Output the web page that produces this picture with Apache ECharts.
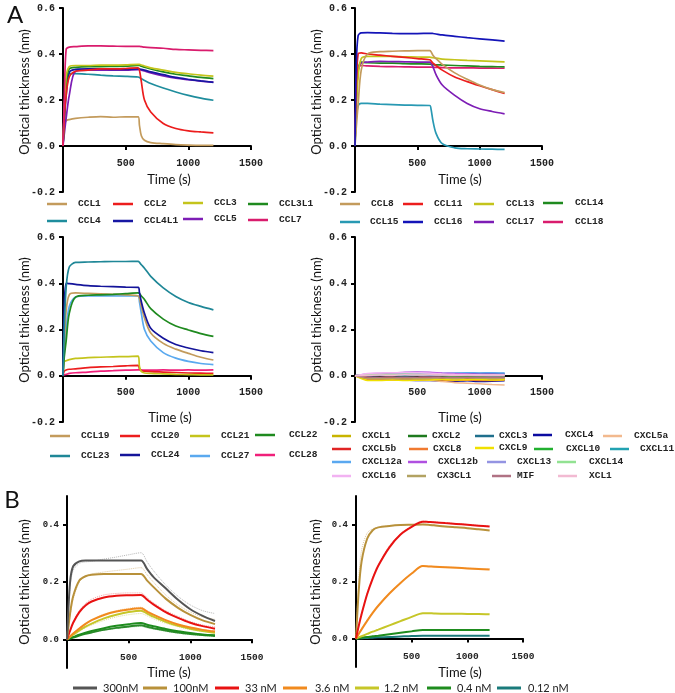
<!DOCTYPE html>
<html><head><meta charset="utf-8">
<script src="https://cdn.jsdelivr.net/npm/echarts@6/dist/echarts.min.js"></script>
<style>html,body{margin:0;padding:0;background:#fff}#c{width:675px;height:693px}</style>
</head><body><div id="c"></div>
<script>
// ---------- time grids (s) ----------
const T1 = [0,10,25,50,100,200,300,400,500,600,610,625,650,700,800,900,1000,1100,1200];
const T4 = [0,100,200,300,400,500,600,700,800,900,1000,1100,1200];
const TB = [0,25,50,100,150,200,300,400,500,600,650,700,800,900,1000,1100,1200];

// ---------- Panel A1 ----------
const CCL1   = [0,0.09,0.11,0.115,0.12,0.125,0.128,0.125,0.127,0.127,0.09,0.045,0.025,0.015,0.01,0.006,0.004,0.003,0.003];
const CCL2   = [0,0.12,0.22,0.30,0.325,0.33,0.335,0.335,0.337,0.34,0.33,0.28,0.20,0.148,0.098,0.076,0.066,0.061,0.057];
const CCL3   = [0,0.15,0.30,0.345,0.35,0.35,0.352,0.352,0.353,0.355,0.355,0.352,0.348,0.34,0.33,0.32,0.314,0.308,0.304];
const CCL3L1 = [0,0.12,0.27,0.335,0.342,0.345,0.345,0.346,0.347,0.35,0.35,0.347,0.343,0.335,0.322,0.312,0.305,0.298,0.293];
const CCL4   = [0,0.15,0.28,0.315,0.315,0.312,0.308,0.305,0.303,0.30,0.298,0.292,0.285,0.272,0.252,0.235,0.22,0.208,0.199];
const CCL4L1 = [0,0.1,0.22,0.32,0.333,0.335,0.335,0.333,0.333,0.335,0.335,0.333,0.33,0.322,0.31,0.298,0.29,0.283,0.277];
const CCL5   = [0,0.05,0.12,0.22,0.325,0.33,0.33,0.33,0.33,0.332,0.332,0.33,0.326,0.318,0.305,0.295,0.288,0.282,0.278];
const CCL7   = [0,0.2,0.42,0.43,0.432,0.435,0.435,0.434,0.433,0.433,0.433,0.432,0.43,0.428,0.425,0.42,0.418,0.416,0.415];

// ---------- Panel A2 ----------
const CCL8  = [0,0.08,0.18,0.33,0.40,0.41,0.412,0.414,0.415,0.415,0.41,0.395,0.38,0.355,0.318,0.29,0.265,0.245,0.232];
const CCL11 = [0,0.25,0.40,0.405,0.40,0.395,0.39,0.385,0.38,0.375,0.37,0.36,0.35,0.33,0.30,0.28,0.262,0.245,0.228];
const CCL13 = [0,0.15,0.30,0.38,0.39,0.39,0.39,0.388,0.387,0.386,0.385,0.384,0.382,0.378,0.375,0.372,0.37,0.368,0.366];
const CCL14 = [0,0.2,0.33,0.365,0.362,0.36,0.36,0.358,0.357,0.356,0.355,0.354,0.353,0.352,0.35,0.348,0.346,0.345,0.344];
const CCL15 = [0,0.12,0.175,0.185,0.185,0.182,0.18,0.178,0.177,0.176,0.16,0.11,0.055,0.01,-0.008,-0.012,-0.013,-0.014,-0.015];
const CCL16 = [0,0.35,0.48,0.492,0.493,0.492,0.49,0.489,0.489,0.49,0.49,0.489,0.487,0.483,0.477,0.471,0.466,0.461,0.456];
const CCL17 = [0,0.2,0.33,0.36,0.365,0.368,0.367,0.366,0.365,0.365,0.36,0.345,0.31,0.265,0.22,0.185,0.162,0.15,0.14];
const CCL18 = [0,0.22,0.34,0.35,0.348,0.346,0.345,0.344,0.343,0.343,0.343,0.342,0.342,0.341,0.34,0.34,0.339,0.339,0.338];

// ---------- Panel A3 ----------
const CCL19 = [0,0.12,0.28,0.35,0.358,0.356,0.354,0.352,0.35,0.345,0.335,0.30,0.25,0.185,0.14,0.115,0.097,0.08,0.068];
const CCL20 = [0,0.02,0.025,0.028,0.03,0.035,0.038,0.04,0.043,0.045,0.03,0.022,0.02,0.018,0.016,0.014,0.012,0.011,0.01];
const CCL21 = [0,0.06,0.065,0.07,0.075,0.078,0.08,0.082,0.083,0.085,0.04,0.018,0.012,0.01,0.008,0.006,0.005,0.004,0.004];
const CCL22 = [0,0.08,0.15,0.27,0.34,0.348,0.35,0.352,0.355,0.358,0.355,0.345,0.33,0.29,0.245,0.215,0.198,0.182,0.17];
const CCL23 = [0,0.2,0.38,0.47,0.49,0.492,0.493,0.494,0.494,0.495,0.49,0.48,0.465,0.43,0.38,0.343,0.317,0.30,0.285];
const CCL24 = [0,0.3,0.40,0.398,0.395,0.39,0.387,0.385,0.383,0.382,0.36,0.32,0.27,0.205,0.162,0.135,0.12,0.108,0.10];
const CCL27 = [0,0.1,0.2,0.30,0.34,0.345,0.345,0.345,0.345,0.345,0.32,0.27,0.2,0.15,0.1,0.076,0.062,0.053,0.048];
const CCL28 = [0,0.004,0.006,0.01,0.013,0.016,0.02,0.022,0.024,0.025,0.025,0.025,0.024,0.024,0.025,0.024,0.025,0.024,0.025];

// ---------- Panel A4 ----------
const CXCL1   = [0,-0.01,-0.012,-0.01,-0.012,-0.01,-0.012,-0.015,-0.013,-0.015,-0.014,-0.016,-0.015];
const CXCL2   = [0,0.005,0.006,0.004,0.006,0.005,0.004,0.002,0.0,-0.002,-0.002,-0.003,-0.003];
const CXCL3   = [0,0.004,0.005,0.006,0.005,0.006,0.005,0.008,0.009,0.01,0.01,0.011,0.01];
const CXCL4   = [0,-0.005,-0.01,-0.015,-0.018,-0.02,-0.02,-0.022,-0.024,-0.022,-0.025,-0.024,-0.022];
const CXCL5a  = [0,-0.01,-0.012,-0.015,-0.015,-0.018,-0.02,-0.025,-0.03,-0.032,-0.035,-0.038,-0.04];
const CXCL5b  = [0,-0.008,-0.01,-0.01,-0.009,-0.01,-0.01,-0.012,-0.01,-0.012,-0.01,-0.012,-0.01];
const CXCL8   = [0,-0.015,-0.016,-0.018,-0.017,-0.018,-0.015,-0.018,-0.02,-0.019,-0.02,-0.02,-0.018];
const CXCL9   = [0,-0.02,-0.02,-0.018,-0.02,-0.019,-0.018,-0.016,-0.018,-0.017,-0.016,-0.018,-0.017];
const CXCL10  = [0,0.002,0.003,0.002,0.004,0.003,0.002,0.0,-0.002,-0.001,-0.002,-0.002,-0.003];
const CXCL11  = [0,0.0,0.002,0.001,0.0,0.002,0.001,0.003,0.004,0.003,0.005,0.004,0.005];
const CXCL12a = [0,0.005,0.006,0.008,0.007,0.008,0.006,0.01,0.012,0.013,0.012,0.013,0.012];
const CXCL12b = [0,0.008,0.01,0.012,0.015,0.016,0.015,0.012,0.01,0.008,0.007,0.006,0.005];
const CXCL13  = [0,0.003,0.004,0.005,0.006,0.005,0.004,0.003,0.002,0.002,0.001,0.0,0.0];
const CXCL14  = [0,0.006,0.007,0.006,0.008,0.007,0.006,0.005,0.004,0.003,0.003,0.002,0.002];
const CXCL16  = [0,0.01,0.012,0.013,0.014,0.013,0.012,0.008,0.006,0.005,0.004,0.003,0.003];
const CX3CL1  = [0,-0.012,-0.013,-0.012,-0.014,-0.013,-0.012,-0.01,-0.012,-0.01,-0.011,-0.012,-0.011];
const MIF     = [0,-0.005,-0.006,-0.005,-0.007,-0.006,-0.005,-0.006,-0.007,-0.006,-0.007,-0.006,-0.007];
const XCL1    = [0,0.002,0.003,0.002,0.004,0.003,0.004,0.003,0.002,0.003,0.002,0.003,0.002];

// ---------- Panel B left: fits and raw ----------
const BL_300  = [0,0.2,0.255,0.272,0.275,0.275,0.275,0.275,0.275,0.275,0.245,0.218,0.178,0.138,0.105,0.082,0.064];
const BL_100  = [0,0.09,0.15,0.205,0.22,0.225,0.228,0.228,0.228,0.228,0.205,0.183,0.142,0.11,0.085,0.066,0.053];
const BL_33   = [0,0.03,0.058,0.095,0.118,0.132,0.146,0.152,0.154,0.155,0.138,0.122,0.095,0.075,0.058,0.046,0.037];
const BL_3_6  = [0,0.01,0.02,0.038,0.054,0.067,0.085,0.097,0.104,0.108,0.097,0.086,0.067,0.052,0.041,0.033,0.027];
const BL_1_2  = [0,0.008,0.016,0.031,0.044,0.055,0.073,0.086,0.095,0.1,0.09,0.079,0.061,0.047,0.037,0.029,0.023];
const BL_0_4  = [0,0.004,0.008,0.016,0.023,0.029,0.039,0.047,0.053,0.057,0.051,0.046,0.036,0.028,0.022,0.017,0.014];
const BL_0_4b = [0,0.003,0.006,0.013,0.019,0.024,0.033,0.04,0.045,0.049,0.044,0.039,0.031,0.024,0.019,0.015,0.012];
const BLraw_300 = [0,0.18,0.24,0.265,0.27,0.272,0.28,0.287,0.295,0.302,0.27,0.24,0.19,0.15,0.12,0.1,0.09];
const BLraw_100 = [0,0.08,0.14,0.2,0.22,0.228,0.235,0.24,0.245,0.25,0.225,0.2,0.155,0.12,0.095,0.078,0.07];
const BLraw_33  = [0,0.03,0.06,0.1,0.125,0.14,0.155,0.16,0.162,0.162,0.145,0.128,0.1,0.08,0.062,0.05,0.043];
const BLraw_3_6 = [0,0.01,0.022,0.04,0.055,0.068,0.088,0.1,0.108,0.112,0.1,0.088,0.068,0.053,0.042,0.034,0.03];
const BLraw_1_2 = [0,0.006,0.013,0.027,0.04,0.05,0.066,0.078,0.086,0.09,0.082,0.072,0.056,0.044,0.034,0.027,0.022];
const BLraw_0_4 = [0,0.003,0.006,0.013,0.019,0.024,0.032,0.038,0.042,0.045,0.04,0.036,0.028,0.022,0.017,0.013,0.011];

// ---------- Panel B right: fits and raw ----------
const BR_100  = [0,0.17,0.27,0.35,0.38,0.39,0.395,0.398,0.399,0.4,0.399,0.397,0.393,0.39,0.387,0.383,0.379];
const BR_33   = [0,0.045,0.085,0.155,0.21,0.255,0.32,0.365,0.392,0.41,0.409,0.408,0.405,0.402,0.399,0.396,0.393];
const BR_3_6  = [0,0.016,0.032,0.062,0.09,0.115,0.158,0.195,0.228,0.254,0.253,0.252,0.25,0.248,0.246,0.244,0.242];
const BR_1_2  = [0,0.004,0.008,0.016,0.024,0.031,0.046,0.061,0.076,0.089,0.089,0.088,0.087,0.087,0.086,0.086,0.085];
const BR_0_4  = [0,0.001,0.003,0.005,0.008,0.01,0.015,0.02,0.025,0.03,0.03,0.03,0.03,0.03,0.03,0.03,0.03];
const BR_0_12 = [0,0.0005,0.001,0.002,0.003,0.004,0.005,0.007,0.009,0.01,0.01,0.01,0.01,0.01,0.01,0.01,0.01];
const BRraw_100 = [0,0.21,0.31,0.37,0.385,0.39,0.395,0.397,0.4,0.402,0.4,0.398,0.394,0.39,0.388,0.384,0.38];
const BRraw_33  = [0,0.05,0.09,0.16,0.215,0.26,0.325,0.368,0.395,0.412,0.41,0.409,0.406,0.403,0.4,0.397,0.394];
const BRraw_3_6 = [0,0.018,0.035,0.066,0.093,0.118,0.16,0.197,0.23,0.256,0.255,0.254,0.252,0.25,0.248,0.246,0.244];

// ---------- tick labels ----------
const yTicksA = [-0.2,0.0,0.2,0.4,0.6];
const yTicksB = [0.0,0.2,0.4];
const xTicks = [500,1000,1500];

// ---------- styling / layout ----------
const COL = {
  tan:'#c39b5c', red:'#ec1d1d', ylw:'#c4c41c', grn:'#1f8a1f', teal:'#1f8d9d', blue:'#1717a3', purp:'#7d1db5', mag:'#d91c6d'
};
const grids = [
  {left:63, top:8, width:188, height:184},
  {left:355, top:8, width:187, height:184},
  {left:63, top:237, width:188, height:185},
  {left:355, top:237, width:187, height:185},
  {left:67, top:496, width:185, height:172},
  {left:356, top:496, width:167, height:171}
];

const series = [];
function add(name, g, T, vals, color, opt) {
  opt = opt || {};
  series.push({
    type:'line', name:name, xAxisIndex:g, yAxisIndex:g,
    data: T.map((t,i)=>[t, vals[i]]),
    showSymbol:false, symbol:'none', smooth: opt.smooth===undefined?0.3:opt.smooth,
    lineStyle:{color:color, width: opt.width||1.7, type: opt.type||'solid', opacity: opt.opacity||1},
    itemStyle:{color:color}, z: opt.z||2, silent:true, animation:false
  });
}
// A1
add('CCL1',0,T1,CCL1,COL.tan); add('CCL4',0,T1,CCL4,COL.teal);
add('CCL5',0,T1,CCL5,COL.purp); add('CCL4L1',0,T1,CCL4L1,COL.blue);
add('CCL3L1',0,T1,CCL3L1,COL.grn); add('CCL3',0,T1,CCL3,COL.ylw);
add('CCL2',0,T1,CCL2,COL.red); add('CCL7',0,T1,CCL7,COL.mag);
// A2
add('CCL15',1,T1,CCL15,'#2899b3'); add('CCL18',1,T1,CCL18,COL.mag);
add('CCL14',1,T1,CCL14,COL.grn); add('CCL17',1,T1,CCL17,COL.purp);
add('CCL13',1,T1,CCL13,COL.ylw); add('CCL11',1,T1,CCL11,COL.red);
add('CCL8',1,T1,CCL8,COL.tan); add('CCL16',1,T1,CCL16,'#1414b8');
// A3
add('CCL28',2,T1,CCL28,'#f0207a'); add('CCL20',2,T1,CCL20,COL.red);
add('CCL21',2,T1,CCL21,COL.ylw); add('CCL27',2,T1,CCL27,'#5aa9ef');
add('CCL19',2,T1,CCL19,COL.tan); add('CCL22',2,T1,CCL22,COL.grn);
add('CCL24',2,T1,CCL24,'#14149a'); add('CCL23',2,T1,CCL23,'#1f8797');
// A4
const A4 = [
  ['CXCL1',CXCL1,'#c8b400'],['CXCL2',CXCL2,'#1e7a1e'],['CXCL3',CXCL3,'#1f6f8c'],['CXCL4',CXCL4,'#0b0ba0'],['CXCL5a',CXCL5a,'#f2b98e'],
  ['CXCL5b',CXCL5b,'#e02424'],['CXCL8',CXCL8,'#f07a30'],['CXCL9',CXCL9,'#f0e000'],['CXCL10',CXCL10,'#22b030'],['CXCL11',CXCL11,'#22a2b2'],
  ['CXCL12a',CXCL12a,'#5aa8f0'],['CXCL12b',CXCL12b,'#b050e0'],['CXCL13',CXCL13,'#9494e2'],['CXCL14',CXCL14,'#92e292'],
  ['CXCL16',CXCL16,'#f2b2f2'],['CX3CL1',CX3CL1,'#b2a262'],['MIF',MIF,'#b07284'],['XCL1',XCL1,'#f2bad2']
];
A4.forEach(a=>add(a[0],3,T4,a[1],a[2],{smooth:0.2,width:1.5}));
// B colours
const BC = {'300nM':'#555555','100nM':'#b8913a','33 nM':'#e81212','3.6 nM':'#f18a1e','1.2 nM':'#c6c628','0.4 nM':'#1e8c1e','0.12 nM':'#1a7b7b'};
// B left raw (dotted)
add('r300L',4,TB,BLraw_300,'#b8b8b8',{type:'dotted',width:1});
add('r100L',4,TB,BLraw_100,'#e0c9a0',{type:'dotted',width:1});
add('r33L',4,TB,BLraw_33,'#f6a0a0',{type:'dotted',width:1});
add('r36L',4,TB,BLraw_3_6,'#f7c79a',{type:'dotted',width:1});
add('r12L',4,TB,BLraw_1_2,'#dede9a',{type:'dotted',width:1});
add('r04L',4,TB,BLraw_0_4,'#9fd09f',{type:'dotted',width:1});
// B left fits
add('fit0.4b',4,TB,BL_0_4b,'#2a8a2a',{width:2,z:3});
add('0.4 nM',4,TB,BL_0_4,BC['0.4 nM'],{width:2,z:3});
add('1.2 nM',4,TB,BL_1_2,BC['1.2 nM'],{width:2,z:3});
add('3.6 nM',4,TB,BL_3_6,BC['3.6 nM'],{width:2,z:3});
add('33 nM',4,TB,BL_33,BC['33 nM'],{width:2,z:3});
add('100nM',4,TB,BL_100,BC['100nM'],{width:2,z:3});
add('300nM',4,TB,BL_300,BC['300nM'],{width:2,z:3});
// B right raw + fits
add('r100R',5,TB,BRraw_100,'#e0c9a0',{type:'dotted',width:1});
add('r33R',5,TB,BRraw_33,'#f6a0a0',{type:'dotted',width:1});
add('r36R',5,TB,BRraw_3_6,'#f7c79a',{type:'dotted',width:1});
add('0.12 nM',5,TB,BR_0_12,BC['0.12 nM'],{width:2,z:3});
add('0.4 nM',5,TB,BR_0_4,BC['0.4 nM'],{width:2,z:3});
add('1.2 nM',5,TB,BR_1_2,BC['1.2 nM'],{width:2,z:3});
add('3.6 nM',5,TB,BR_3_6,BC['3.6 nM'],{width:2,z:3});
add('100nM',5,TB,BR_100,BC['100nM'],{width:2,z:3});
add('33 nM',5,TB,BR_33,BC['33 nM'],{width:2,z:3});

// ---------- axes ----------
const tickFont = {fontFamily:'Liberation Mono', fontWeight:'bold', fontSize:10, color:'#222'};
const xAxes = [], yAxes = [];
grids.forEach((g,i)=>{
  const isB = i>=4;
  const ymin = isB?-0.1:-0.2, ymax = isB?0.5:0.6;
  const zeroFromBottom = g.height * (0 - ymin) / (ymax - ymin);
  xAxes.push({
    type:'value', gridIndex:i, min:0, max:1500, interval:500, position:'bottom',
    offset: -zeroFromBottom,
    axisLine:{onZero:false, lineStyle:{color:'#000', width:2}},
    axisTick:{show:true, length:4, lineStyle:{color:'#000', width:2}, customValues: xTicks},
    axisLabel:{...tickFont, fontSize: isB?9.5:10, margin: isB?13:12, customValues: xTicks,
      formatter: v => xTicks.indexOf(v)>=0 ? String(v) : ''},
    splitLine:{show:false}
  });
  const yt = isB ? yTicksB : yTicksA;
  yAxes.push({
    type:'value', gridIndex:i, min: ymin, max: ymax, interval: isB?0.1:0.2,
    axisLine:{show:true, onZero:false, lineStyle:{color:'#000', width:2}},
    axisTick:{show:true, length:4, lineStyle:{color:'#000', width:2}, customValues: yt},
    axisLabel:{...tickFont, fontSize: isB?9:10, margin: 8, customValues: yt,
      formatter: v => v.toFixed(1)},
    splitLine:{show:false}
  });
});

// ---------- legends ----------
const legA1 = [['CCL1',47,78,204],['CCL2',113,144,204],['CCL3',183,214,203],['CCL3L1',248,279,204],
  ['CCL4',47,78,221],['CCL4L1',113,144,221],['CCL5',183,214,219],['CCL7',248,279,220]];
const legA2 = [['CCL8',340,371,204],['CCL11',403,434,204],['CCL13',474,506,204],['CCL14',543,575,203],
  ['CCL15',340,370,222],['CCL16',403,434,222],['CCL17',474,506,222],['CCL18',543,575,222]];
const legA3 = [['CCL19',50,81,436],['CCL20',120,151,436],['CCL21',190,221,436],['CCL22',255,289,435],
  ['CCL23',50,81,456],['CCL24',120,151,455],['CCL27',190,221,456],['CCL28',255,289,455]];
const legA4 = [['CXCL1',332,362,436],['CXCL2',408,432,436],['CXCL3',475,497,436],['CXCL4',533,565,435],['CXCL5a',603,634,436],
  ['CXCL5b',332,362,449],['CXCL8',409,432,449],['CXCL9',475,497,448],['CXCL10',534,566,449],['CXCL11',610,640,449],
  ['CXCL12a',332,362,462],['CXCL12b',408,438,462],['CXCL13',487,517,462],['CXCL14',557,589,462],
  ['CXCL16',332,362,476],['CX3CL1',407,437,476],['MIF',492,517,476],['XCL1',558,589,476]];
const legB = [['300nM',73,103,688],['100nM',143,173,688],['33 nM',215,245,688],['3.6 nM',283,315,688],
  ['1.2 nM',355,383,688],['0.4 nM',427,457,688],['0.12 nM',497,528,688]];

const legends = [];
function addLeg(list, w, h, font) {
  list.forEach(it=>{
    const pad = Math.max(0, it[2]-it[1]-w-5);
    legends.push({
      data:[{name:it[0], icon:'rect'}], left:it[1], top:it[3]-6, padding:0,
      itemWidth:w, itemHeight:h, itemGap:0, selectedMode:false,
      textStyle:{...font, lineHeight:12, padding:[0,0,0,pad]}
    });
  });
}
const legFont = {fontFamily:'Liberation Mono', fontWeight:'bold', fontSize:9.5, color:'#222'};
addLeg(legA1, 20, 2.5, legFont);
addLeg(legA2, 20, 2.5, legFont);
addLeg(legA3, 20, 2.5, legFont);
addLeg(legA4, 19, 2.5, legFont);
addLeg(legB, 24, 3, {fontFamily:'Lato', fontSize:11, color:'#222'});

// ---------- titles ----------
const ttl = {fontFamily:'Lato', fontSize:13, fill:'#111'};
function txt(s, x, y, rot, extra) {
  return {type:'text', x:x, y:y, rotation: rot||0, silent:true,
    style:Object.assign({text:s, align:'center', verticalAlign:'middle'}, ttl, extra||{})};
}
const graphic = [
  txt('A',15,15,0,{fontSize:24, fontFamily:'Lato'}),
  txt('B',12,500,0,{fontSize:24, fontFamily:'Lato'}),
  txt('Time (s)',169,180), txt('Time (s)',460,180),
  txt('Time (s)',170,418), txt('Time (s)',460,418),
  txt('Time (s)',169,673), txt('Time (s)',460,673),
  txt('Optical thickness (nm)',25,92,Math.PI/2),
  txt('Optical thickness (nm)',317,92,Math.PI/2),
  txt('Optical thickness (nm)',25,320,Math.PI/2),
  txt('Optical thickness (nm)',317,320,Math.PI/2),
  txt('Optical thickness (nm)',25,582,Math.PI/2),
  txt('Optical thickness (nm)',316,582,Math.PI/2)
];

const chart = echarts.init(document.getElementById('c'), null, {renderer:'canvas'});
chart.setOption({
  animation:false, backgroundColor:'#fff',
  grid: grids.map(g=>Object.assign({containLabel:false}, g)),
  xAxis:xAxes, yAxis:yAxes, series:series, legend:legends, graphic:graphic
});
</script></body></html>
